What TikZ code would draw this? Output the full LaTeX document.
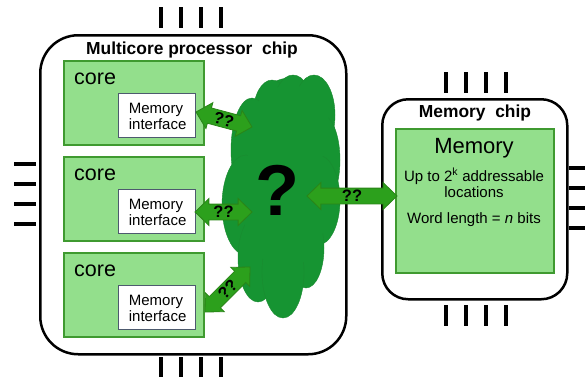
\documentclass[tikz,border=0pt]{standalone}
\usepackage{fontspec}
\setmainfont{Liberation Sans}
\usetikzlibrary{shapes.arrows,calc}
\definecolor{cloudgreen}{HTML}{169432}
\definecolor{cloudedge}{HTML}{1A8A30}
\definecolor{arrowgreen}{HTML}{2CA01C}
\definecolor{arrowedge}{HTML}{2A8418}
\definecolor{corefill}{HTML}{93DF8C}
\definecolor{coreedge}{HTML}{3F9A30}
\definecolor{mibord}{HTML}{4D5A6E}
\newcommand{\blockarrow}[3]{%
  \path let \p1=($(#2)-(#1)$), \n1={atan2(\y1,\x1)}, \n2={veclen(\x1,\y1)} in
    node[bigarrow, rotate=\n1, minimum height=\n2] at ($(#1)!0.5!(#2)$) {#3};}
\begin{document}
\begin{tikzpicture}[x=1pt,y=-1pt,
  chip/.style={draw=black, line width=2.5pt, anchor=north west, inner sep=0pt},
  pin/.style={line width=3.5pt},
  corebox/.style={draw=coreedge, fill=corefill, line width=1.5pt, anchor=north west,
    minimum width=140pt, minimum height=84pt, inner sep=0pt},
  mibox/.style={draw=mibord, fill=white, line width=1.2pt, anchor=north west,
    minimum width=77pt, minimum height=44pt, inner sep=0pt},
  mitext/.style={align=left, inner sep=0pt, font=\fontsize{15}{16}\selectfont},
  corelabel/.style={anchor=west, inner sep=0pt, font=\fontsize{21.5}{24}\selectfont},
  titletext/.style={inner sep=0pt, font=\fontsize{17.4}{20}\selectfont\bfseries},
  memtext/.style={anchor=base, inner sep=0pt, font=\fontsize{15}{17}\selectfont},
  lobe/.style={fill=cloudgreen, draw=cloudedge, line width=0.4pt},
  bigarrow/.style={double arrow, draw=arrowedge, fill=arrowgreen, line width=0.8pt,
    double arrow head extend=5.5pt, double arrow tip angle=88,
    inner xsep=0pt, inner ysep=0pt, text height=13.4pt, text depth=1.6pt,
    font=\fontsize{16.5}{16.5}\selectfont\bfseries},
]
\useasboundingbox (0,0) rectangle (585,381);

% pins of the processor chip
\foreach \px in {161,181,201,221} {
  \draw[pin] (\px,7) -- (\px,28);
  \draw[pin] (\px,357) -- (\px,377);
}
\foreach \py in {164,184,204,224} {
  \draw[pin] (14,\py) -- (36,\py);
}
% pins of the memory chip
\foreach \px in {446,466,486,506} {
  \draw[pin] (\px,72) -- (\px,93);
  \draw[pin] (\px,305) -- (\px,326);
}
\foreach \py in {168,188,208,228} {
  \draw[pin] (569,\py) -- (585,\py);
}

% chips
\node[chip, rounded corners=38pt, minimum width=306pt, minimum height=319pt] (cpu) at (39,34) {};
\node[chip, rounded corners=26pt, minimum width=185pt, minimum height=200pt] (memchip) at (381,98) {};
\node[titletext] (cputitle) at (192,50) {Multicore processor\ \ chip};
\node[titletext] (memtitle) at (475,113) {Memory\ \ chip};

% cores
\foreach \i/\ty in {1/60,2/156,3/252} {
  \node[corebox] (core\i) at (63,\ty) {};
  \node[corelabel] (corelab\i) at (74,\ty+19) {core};
  \node[mibox] (mi\i) at (118,\ty+33) {};
  \node[mitext] (mitext\i) at ($(mi\i.center)+(0.5,1)$) {Memory\\interface};
}

% memory
\node[draw=coreedge, fill=corefill, line width=1.5pt, anchor=north west,
  minimum width=158pt, minimum height=144pt, inner sep=0pt] (mem) at (395,128) {};
\node[anchor=base, inner sep=0pt, font=\fontsize{22}{24}\selectfont] (memlab) at (474,153) {Memory};
\node[memtext] (memt1) at (474,181) {Up to 2\textsuperscript{k} addressable};
\node[memtext] (memt2) at (474,197) {locations};
\node[memtext] (memt3) at (474,223) {Word length = \textit{n} bits};

% interconnect cloud
\path[lobe] (290,140) ellipse [x radius=45pt, y radius=62pt];
\path[lobe] (272,115) ellipse [x radius=19pt, y radius=35pt];
\path[lobe] (293,110) ellipse [x radius=20pt, y radius=35pt];
\path[lobe] (314,115) ellipse [x radius=21pt, y radius=40pt];
\path[lobe] (322,160) ellipse [x radius=18pt, y radius=45pt];
\path[lobe] (252,150) ellipse [x radius=21pt, y radius=52pt];
\path[lobe] (246,205) ellipse [x radius=24pt, y radius=50pt];
\path[lobe] (318,200) ellipse [x radius=22pt, y radius=45pt];
\path[lobe] (258,258) ellipse [x radius=20pt, y radius=44pt];
\path[lobe] (306,248) ellipse [x radius=18pt, y radius=40pt];
\path[lobe] (283,272) ellipse [x radius=21pt, y radius=46pt];
\path[fill=cloudgreen] (285,195) ellipse [x radius=44pt, y radius=74pt];
\path[fill=cloudgreen] (290,130) ellipse [x radius=40pt, y radius=45pt];
\node[inner sep=0pt, font=\fontsize{72}{72}\selectfont\bfseries] (bigq) at (277,190) {?};

% connector end points
\coordinate (a1s) at (196,112);
\coordinate (a1e) at (252,127);
\coordinate (a2s) at (195,212);
\coordinate (a2e) at (252,212);
\coordinate (a3s) at (205,312);
\coordinate (a3e) at (250,267);
\coordinate (a4s) at (307,196);
\coordinate (a4e) at (397,196);

\blockarrow{a1s}{a1e}{??}
\blockarrow{a2s}{a2e}{??}
\blockarrow{a3s}{a3e}{??}
\blockarrow{a4s}{a4e}{??}
\end{tikzpicture}
\end{document}
